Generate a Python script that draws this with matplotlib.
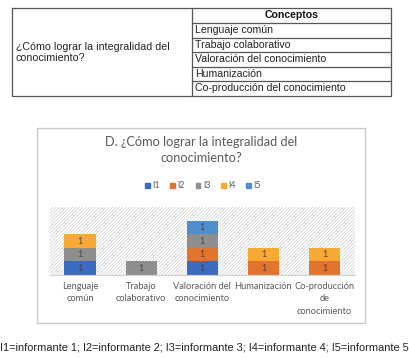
import matplotlib
matplotlib.use("Agg")

import matplotlib.pyplot as plt
import matplotlib.patches as mpatches
import numpy as np

W, H = 409, 358

# data
question = "¿Cómo lograr la integralidad del\nconocimiento?"
table_header = "Conceptos"
table_concepts = ["Lenguaje común", "Trabajo colaborativo",
                  "Valoración del conocimiento", "Humanización",
                  "Co-producción del conocimiento"]

categories = ["Lenguaje\ncomún", "Trabajo\ncolaborativo",
              "Valoración del\nconocimiento", "Humanización",
              "Co-producción\nde\nconocimiento"]
series_names = ["I1", "I2", "I3", "I4", "I5"]
i1 = [1, 0, 1, 0, 0]
i2 = [0, 0, 1, 1, 1]
i3 = [1, 1, 1, 0, 0]
i4 = [1, 0, 0, 1, 1]
i5 = [0, 0, 1, 0, 0]
series_values = [i1, i2, i3, i4, i5]
colors = ["#3A6BBE", "#E3742E", "#8E8E8E", "#F6AA32", "#4F8ECB"]

chart_title = "D. ¿Cómo lograr la integralidad del\nconocimiento?"
footer = ("I1=informante 1; I2=informante 2; I3=informante 3; "
          "I4=informante 4; I5=informante 5")

plt.rcParams["hatch.linewidth"] = 0.5

fig = plt.figure(figsize=(W / 100, H / 100), dpi=100)
fig.patch.set_facecolor("white")

# overlay in pixel coordinates for table, frame and footer
ov = fig.add_axes([0, 0, 1, 1])
ov.set_xlim(0, W)
ov.set_ylim(H, 0)
ov.axis("off")

# --- table ---
tl, tr, tmid = 12, 391, 192
row_y = [8, 23, 37.5, 52, 66.5, 81, 95.5]
lc = "#555555"
ov.plot([tl, tr, tr, tl, tl], [row_y[0], row_y[0], row_y[-1], row_y[-1], row_y[0]],
        color=lc, lw=0.9)
ov.plot([tmid, tmid], [row_y[0], row_y[-1]], color=lc, lw=0.9)
for y in row_y[1:-1]:
    ov.plot([tmid, tr], [y, y], color=lc, lw=0.9)
ov.text(16, (row_y[0] + row_y[-1]) / 2 + 1, question, ha="left", va="center",
        fontsize=7.7, family="Liberation Sans", color="#222222", linespacing=1.1)
ov.text((tmid + tr) / 2, (row_y[0] + row_y[1]) / 2, table_header, ha="center",
        va="center", fontsize=7.6, family="Liberation Sans", fontweight="bold",
        color="#111111")
for k, c in enumerate(table_concepts):
    ov.text(tmid + 3, (row_y[k + 1] + row_y[k + 2]) / 2, c, ha="left",
            va="center", fontsize=7.6, family="Liberation Sans", color="#222222")

# --- chart frame ---
ov.add_patch(mpatches.Rectangle((37, 128), 328, 195, fill=False,
                                edgecolor="#C8C8C8", lw=1.0))
ov.text(201, 150, chart_title, ha="center", va="center", fontsize=9.2,
        family="Lato", color="#595959", linespacing=1.3)

# --- footer ---
ov.text(W / 2, 347, footer, ha="center", va="center", fontsize=7.9,
        family="Liberation Sans", color="#222222")

# --- bar chart ---
left, right, top, base = 49.5, 355, 207, 275
ax = fig.add_axes([left / W, 1 - base / H, (right - left) / W, (base - top) / H])
ax.set_facecolor("white")
hatch_bg = mpatches.Rectangle((0, 0), 1, 1, transform=ax.transAxes,
                              facecolor="white", edgecolor="#CDCDCD",
                              hatch="//////////", lw=0, zorder=0)
ax.add_patch(hatch_bg)

x = np.arange(len(categories))
bottom = np.zeros(len(categories))
for name, vals, col in zip(series_names, series_values, colors):
    vals = np.array(vals, dtype=float)
    ax.bar(x, vals, 0.51, bottom=bottom, color=col, label=name, zorder=2)
    for xi, v, b in zip(x, vals, bottom):
        if v > 0:
            ax.text(xi, b + v / 2, f"{int(v)}", ha="center", va="center",
                    fontsize=6.3, family="Lato", color="#404040", zorder=3)
    bottom += vals

ax.set_xlim(-0.5, 4.5)
ax.set_ylim(0, 5)
ax.set_yticks([])
ax.set_xticks(x)
ax.set_xticklabels(categories, fontsize=6.7, family="Lato", color="#595959",
                   linespacing=1.5)
ax.tick_params(axis="x", length=0, pad=5)
for s in ["top", "left", "right"]:
    ax.spines[s].set_visible(False)
ax.spines["bottom"].set_color("#D0D0D0")
ax.spines["bottom"].set_linewidth(0.9)

handles = [mpatches.Patch(color=c) for c in colors]
fig.legend(handles, series_names, loc="center", bbox_to_anchor=(203 / W, 1 - 186 / H),
           ncol=5, frameon=False, prop={"family": "Lato", "size": 6.3},
           handlelength=0.55, handleheight=0.55, handletextpad=0.3, columnspacing=1.2,
           labelcolor="#595959")

fig.savefig("out.png", dpi=100)
